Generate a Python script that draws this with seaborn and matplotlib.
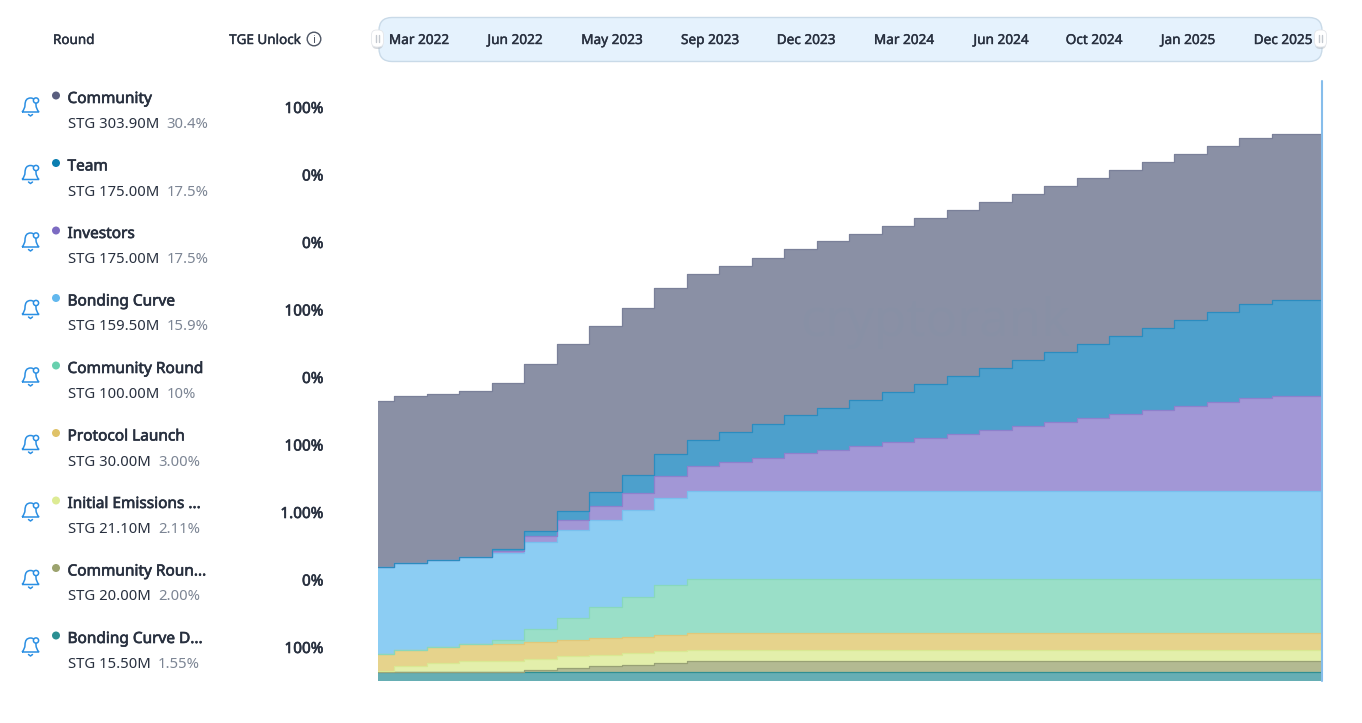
import numpy as np
import pandas as pd
import matplotlib.pyplot as plt
import matplotlib.patheffects as pe
import seaborn as sns
from matplotlib.patches import Circle, FancyBboxPatch, PathPatch
from matplotlib.path import Path

# Rounds as listed on the left
names = ['Community', 'Team', 'Investors', 'Bonding Curve', 'Community Round', 'Protocol Launch',
         'Initial Emissions ...', 'Community Roun...', 'Bonding Curve D...']
amounts = ['STG 303.90M', 'STG 175.00M', 'STG 175.00M', 'STG 159.50M', 'STG 100.00M', 'STG 30.00M',
           'STG 21.10M', 'STG 20.00M', 'STG 15.50M']
shares = ['30.4%', '17.5%', '17.5%', '15.9%', '10%', '3.00%', '2.11%', '2.00%', '1.55%']
tge = ['100%', '0%', '0%', '100%', '0%', '100%', '1.00%', '0%', '100%']
dots = ['#5A5F7F', '#0B7EB0', '#7C6BC2', '#62B8EE', '#68D0AE', '#DFC268', '#DDEB94', '#9CA36E', '#2A8F92']
fills = ['#8A90A5', '#4DA0CC', '#A297D6', '#8CCDF3', '#9ADFC8', '#E6D38C', '#E3EFAB', '#B3BA92', '#66AEB4']
edges_c = ['#7A8099', '#2B8CBF', '#8E80CC', '#78C0EE', '#88D8BC', '#E0C87A', '#D9E893', '#98A175', '#2F8F92']

slider_labels = ['Mar 2022', 'Jun 2022', 'May 2023', 'Sep 2023', 'Dec 2023', 'Mar 2024', 'Jun 2024',
                 'Oct 2024', 'Jan 2025', 'Dec 2025']
slider_x = [419, 515, 612, 710, 806, 904, 1001, 1094, 1188, 1283]

# Where each step starts, in periods (the first one is half a period, the last a bit longer)
step_start = [0, 0.5, 1.5, 2.5, 3.5, 4.5, 5.5, 6.5, 7.5, 8.5, 9.5, 10.5, 11.5, 12.5, 13.5, 14.5, 15.5,
              16.5, 17.5, 18.5, 19.5, 20.5, 21.5, 22.5, 23.5, 24.5, 25.5, 26.5, 27.5]
x_end = 29.05

# Unlocked amount per step, millions of STG
community = [303.9] * 29
team = [0, 0, 0, 0, 3.6, 10.5, 18, 26, 33, 41, 47.6, 54.9, 62.2, 69.5, 76.8, 84.1, 91.5, 98.8, 106.1,
         113.4, 120.2, 127.5, 135.4, 142.7, 150, 157.3, 164.6, 171.9, 175]
investors = [0, 0, 0, 0, 3.6, 10, 18, 25, 32, 40, 47, 54.3, 61.6, 69.5, 76.8, 83.6, 90.9, 98.2, 105.5,
             112.9, 120.7, 128, 134.8, 142.1, 149.4, 156.8, 164, 171.4, 175]
bonding = [159.5] * 29
community_round = [0, 0, 0, 0, 8, 24, 41, 57, 72, 90, 100, 100, 100, 100, 100, 100, 100, 100, 100, 100,
                   100, 100, 100, 100, 100, 100, 100, 100, 100]
protocol = [30] * 29
initial = [3, 11, 16.4, 21.1, 21.1, 21.1, 21.1, 21.1, 21.1, 21.1, 21.1, 21.1, 21.1, 21.1, 21.1, 21.1,
           21.1, 21.1, 21.1, 21.1, 21.1, 21.1, 21.1, 21.1, 21.1, 21.1, 21.1, 21.1, 21.1]
community_round2 = [0, 0, 0, 0, 0, 4, 8, 11, 14, 17.7, 20, 20, 20, 20, 20, 20, 20, 20, 20, 20, 20, 20,
                    20, 20, 20, 20, 20, 20, 20]
bonding_d = [15.5] * 29

sns.set_theme(style='white')
plt.rcParams['font.family'] = ['Noto Sans', 'DejaVu Sans']

W, H = 1362, 723
fig = plt.figure(figsize=(W / 100, H / 100), dpi=100)

# Chart area
left, right, bottom, top = 378, 1322, 680.7, 81
ax = fig.add_axes([left / W, (H - bottom) / H, (right - left) / W, (bottom - top) / H])

# Bottom layer first
df = pd.DataFrame({'Bonding Curve D': bonding_d, 'Community Round 2': community_round2, 'Initial': initial,
                   'Protocol': protocol, 'Community Round': community_round, 'Bonding': bonding,
                   'Investors': investors, 'Team': team, 'Community': community})
stack = df.cumsum(axis=1)
x = np.array(step_start + [x_end])
n = len(df.columns)
for i, col in enumerate(df.columns):
    upper = np.append(stack[col].values, stack[col].values[-1])
    lower = np.zeros(len(x)) if i == 0 else np.append(stack.iloc[:, i - 1].values, stack.iloc[-1, i - 1])
    ax.fill_between(x, lower, upper, step='post', color=fills[n - 1 - i], lw=0, zorder=i + 1)
for i, col in enumerate(df.columns):
    upper = np.append(stack[col].values, stack[col].values[-1])
    sns.lineplot(x=x, y=upper, drawstyle='steps-post', color=edges_c[n - 1 - i], linewidth=0.9,
                 estimator=None, errorbar=None, ax=ax, zorder=n + i + 1)

ax.axvline(x_end, color='#86BDEB', lw=1.5, zorder=40, clip_on=False)
ax.set_xlim(0, x_end)
ax.set_ylim(0, (bottom - top) / 0.5467)
ax.axis('off')
ax.text(0.59, 0.598, 'cryptorank', transform=ax.transAxes, ha='center', va='center', fontsize=38,
        fontweight='bold', color='#8292A8', alpha=0.22, zorder=50)

# Everything else is placed in pixels on a full figure overlay
ui = fig.add_axes([0, 0, 1, 1], zorder=5)
ui.set_xlim(0, W)
ui.set_ylim(H, 0)
ui.axis('off')
ui.patch.set_alpha(0)

dark = '#28303F'
grey = '#7C8594'
blue = '#2B8FE3'
# the installed Noto Sans has no semibold cut, a thin stroke thickens the regular one
semi = [pe.withStroke(linewidth=0.45, foreground=dark)]
mid = [pe.withStroke(linewidth=0.3, foreground=dark)]

ui.text(53, 44, 'Round', fontsize=9.7, color=dark, path_effects=mid)
ui.text(301, 44, 'TGE Unlock', fontsize=9.7, color=dark, ha='right', path_effects=mid)
ui.add_patch(Circle((314, 39), 6.8, fc='none', ec='#4E5665', lw=1))
ui.text(314, 43, 'i', fontsize=8, color='#4E5665', ha='center')

# Range slider
ui.add_patch(FancyBboxPatch((379, 17.5), 943, 44, boxstyle='round,pad=0,rounding_size=13',
                            fc='#E5F2FD', ec='#C9DAE8', lw=1))
for lab, lx in zip(slider_labels, slider_x):
    ui.text(lx, 44, lab, fontsize=9.8, color=dark, ha='center', path_effects=mid)
for hx in [377.5, 1320.5]:
    ui.add_patch(FancyBboxPatch((hx - 5.5, 32), 11, 17, boxstyle='round,pad=0,rounding_size=5',
                                fc='#AEB4BD', ec='none', alpha=0.5))
    ui.add_patch(FancyBboxPatch((hx - 6, 30), 12, 17, boxstyle='round,pad=0,rounding_size=5',
                                fc='white', ec='#E3E6EA', lw=0.6))
    ui.plot([hx - 1.5, hx - 1.5], [35, 42], color='#C3C8CF', lw=1)
    ui.plot([hx + 1.5, hx + 1.5], [35, 42], color='#C3C8CF', lw=1)


def draw_bell(cx, cy):
    # outline of the bell, cx and cy being the middle of its body
    verts = [(cx - 8.5, cy + 5), (cx - 5.5, cy + 2), (cx - 5.5, cy - 2), (cx - 5.5, cy - 9), (cx, cy - 9),
             (cx + 5.5, cy - 9), (cx + 5.5, cy - 2), (cx + 5.5, cy + 2), (cx + 8.5, cy + 5), (cx - 8.5, cy + 5)]
    codes = [Path.MOVETO] + [Path.CURVE3] * 8 + [Path.LINETO]
    ui.add_patch(PathPatch(Path(verts, codes), fc='white', ec=blue, lw=1.1))
    ui.add_patch(Circle((cx + 5.5, cy - 6.5), 2.6, fc='white', ec=blue, lw=1.1))
    ui.plot([cx - 2, cx, cx + 2], [cy + 7.5, cy + 9, cy + 7.5], color=blue, lw=1.1)


name_y = [98, 165.5, 233, 300.5, 368, 435.5, 503, 570.5, 638]
renderer = fig.canvas.get_renderer()
for i, ny in enumerate(name_y):
    draw_bell(30.5, ny + 9)
    ui.add_patch(Circle((56, ny - 2.5), 4, fc=dots[i], ec='none'))
    ui.text(67.5, ny + 5, names[i], fontsize=11.1, color=dark, path_effects=semi)
    t = ui.text(67.5, ny + 30, amounts[i], fontsize=10.7, color=dark)
    ext = t.get_window_extent(renderer)
    ui.text(ext.x1 + 7.5, ny + 30, shares[i], fontsize=10.7, color=grey)
    ui.text(323.5, ny + 15, tge[i], fontsize=11, color=dark, ha='right', path_effects=semi)

fig.savefig('out.png', dpi=100)
